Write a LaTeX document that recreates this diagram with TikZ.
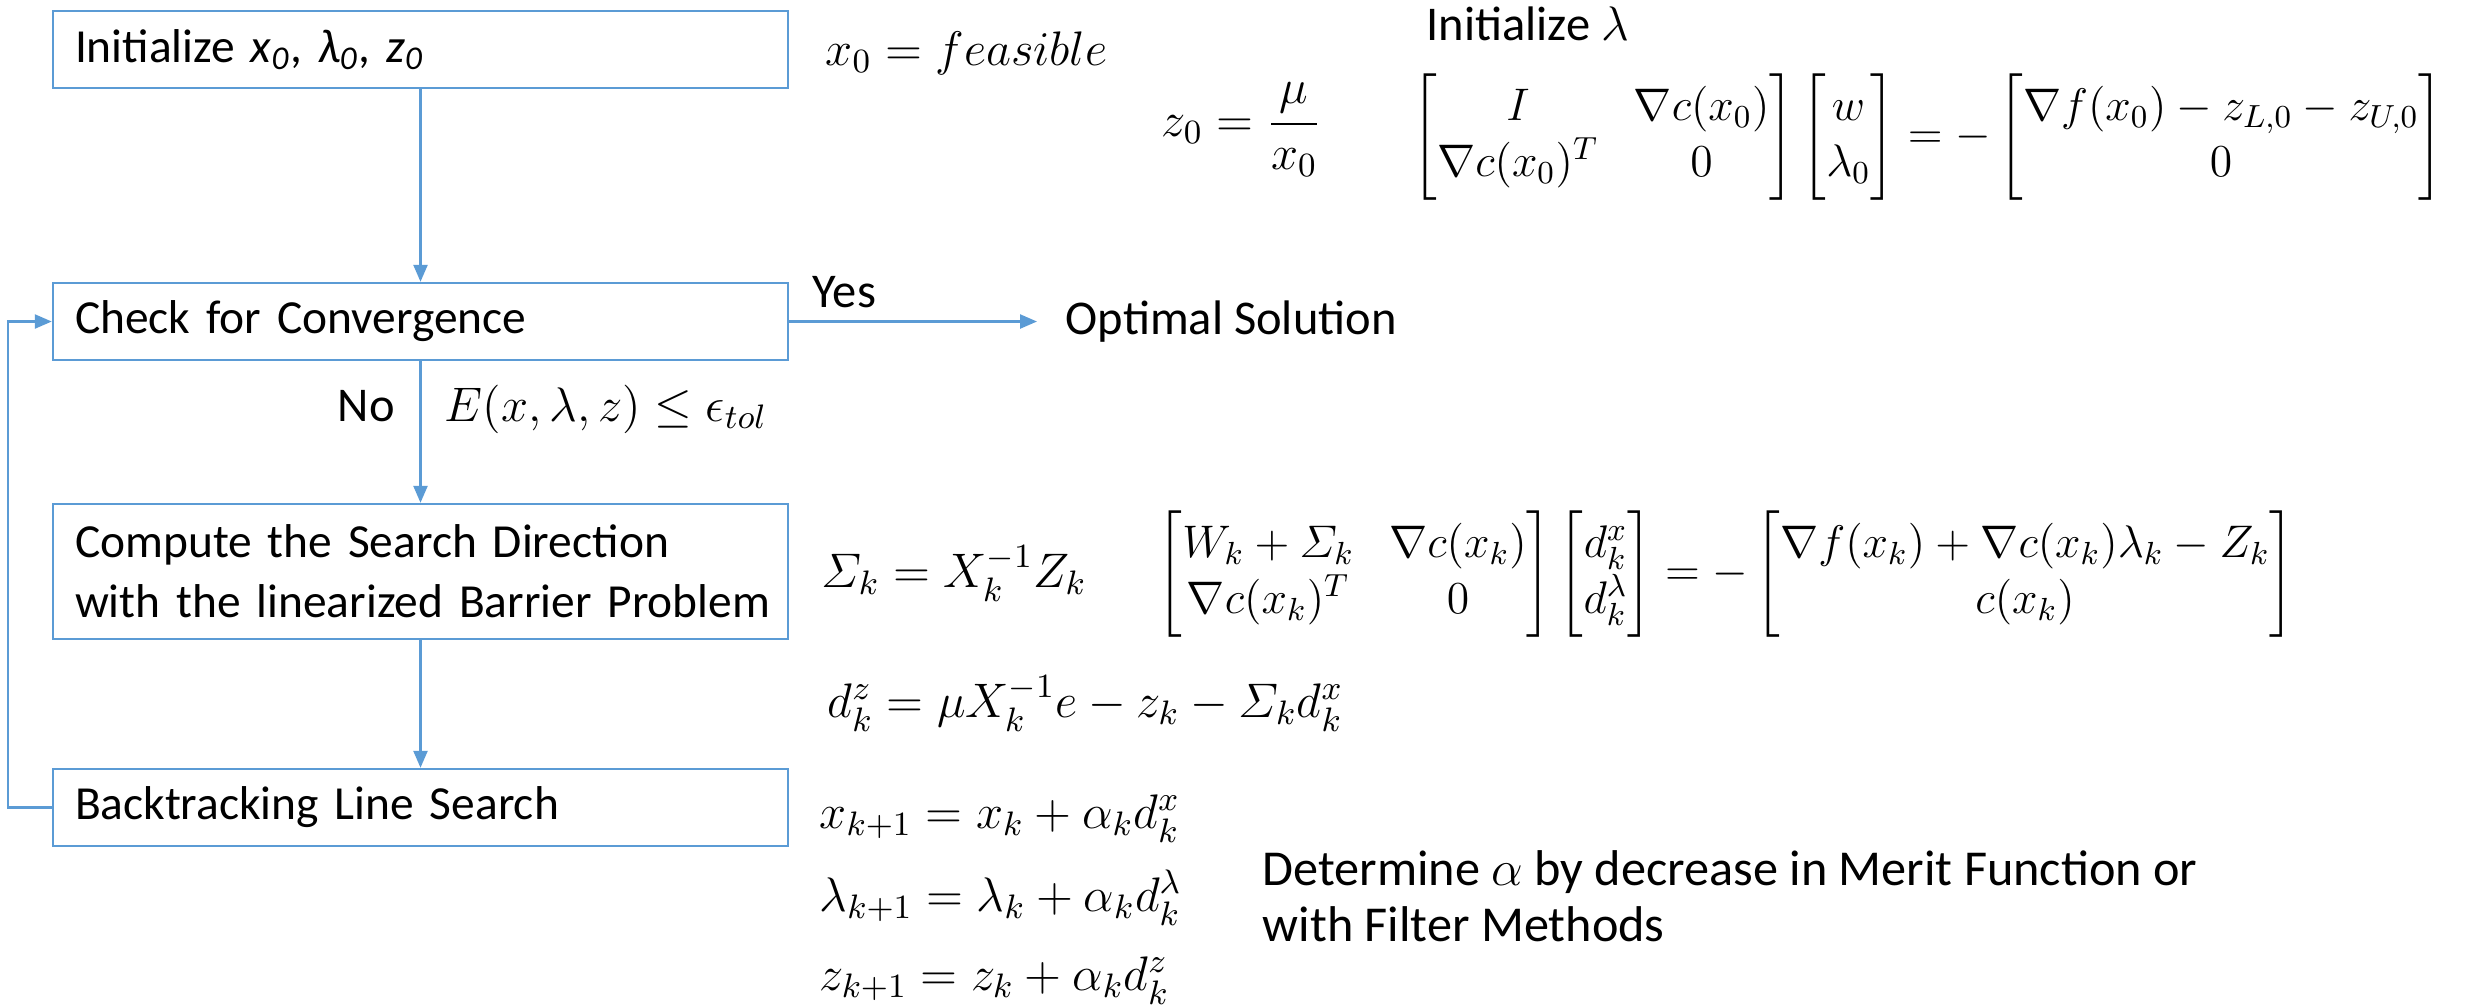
\documentclass[tikz,border=0pt]{standalone}
\usepackage{fix-cm}
\usepackage{amsmath}
\usepackage{fontspec}
\setmainfont{Carlito}
\usepackage{tikz}
\usetikzlibrary{arrows.meta,positioning}
\definecolor{FlowBlue}{HTML}{5B9BD5}

\begin{document}
\begin{tikzpicture}[font=\fontsize{13.8}{17}\selectfont,
  flowbox/.style={draw=FlowBlue, line width=0.7pt, minimum width=7.35cm, text width=6.91cm,
    inner xsep=0.22cm, inner ysep=0pt, align=left, minimum height=0.77cm,
    font=\fontsize{13.5}{17}\selectfont},
  flowarrow/.style={draw=FlowBlue, line width=0.7pt, -{Triangle[length=0.17cm,width=0.14cm]}},
  eqn/.style={inner sep=0pt, anchor=base west},
  bigeqn/.style={inner sep=0pt, anchor=west, font=\fontsize{13}{16}\selectfont}]
  \useasboundingbox (0,0) rectangle (24.65,-10.06);

  \node[flowbox] (init) at (4.205,-0.495)
    {Initialize \textit{x}\textsubscript{\textit{0}}, \textit{λ}\textsubscript{\textit{0}}, \textit{z}\textsubscript{\textit{0}}};
  \node[flowbox] (check) at (4.205,-3.215) {Check for Convergence};
  \node[flowbox, minimum height=1.35cm] (comp) at (4.205,-5.715)
    {\mbox{Compute the Search Direction}\\\mbox{with the linearized Barrier Problem}};
  \node[flowbox] (back) at (4.205,-8.075) {Backtracking Line Search};
  \node[anchor=west, inner xsep=0.28cm] (opt) at (10.37,-3.215) {Optimal Solution};
  \coordinate (loop) at (0.08,-8.075);

  \draw[flowarrow] (init) -- (check);
  \draw[flowarrow] (check) -- (comp);
  \draw[flowarrow] (comp) -- (back);
  \draw[flowarrow] (check.east) -- (opt.west);
  \draw[flowarrow] (back.west) -- (loop) |- (check.west);

  \node[eqn] (yes) at (8.12,-3.07) {Yes};
  \node[eqn] (no) at (3.37,-4.21) {No};
  \node[eqn] (cond) at (4.44,-4.21) {$E(x,\lambda,z) \le \epsilon_{tol}$};

  \node[eqn] (feas) at (8.25,-0.65) {$x_0 = feasible$};
  \node[eqn] (initl) at (14.26,-0.40) {Initialize $\lambda$};
  \node[eqn] (zinit) at (11.61,-1.36) {$z_0 = \dfrac{\mu}{x_0}$};
  \node[bigeqn] (kkt0) at (14.12,-1.37)
    {$\begin{bmatrix} I & \nabla c(x_0)\\ \nabla c(x_0)^T & 0\end{bmatrix}
      \begin{bmatrix} w\\ \lambda_0\end{bmatrix}
      = -\begin{bmatrix}\nabla f(x_0) - z_{L,0} - z_{U,0}\\ 0\end{bmatrix}$};

  \node[eqn] (sig) at (8.21,-5.87) {$\varSigma_k = X_k^{-1} Z_k$};
  \node[bigeqn] (kkt) at (11.57,-5.74)
    {$\begin{bmatrix} W_k + \varSigma_k & \nabla c(x_k)\\ \nabla c(x_k)^T & 0\end{bmatrix}
      \begin{bmatrix} d_k^x\\ d_k^\lambda\end{bmatrix}
      = -\begin{bmatrix}\nabla f(x_k) + \nabla c(x_k)\lambda_k - Z_k\\ c(x_k)\end{bmatrix}$};
  \node[eqn] (dz) at (8.27,-7.17) {$d_k^z = \mu X_k^{-1} e - z_k - \varSigma_k d_k^x$};

  \node[eqn] (updx) at (8.19,-8.28) {$x_{k+1} = x_k + \alpha_k d_k^x$};
  \node[eqn] (updl) at (8.19,-9.11) {$\lambda_{k+1} = \lambda_k + \alpha_k d_k^\lambda$};
  \node[eqn] (updz) at (8.19,-9.90) {$z_{k+1} = z_k + \alpha_k d_k^z$};
  \node[bigeqn, align=left, font=\fontsize{14.3}{16}\selectfont] (merit) at (12.62,-8.96)
    {Determine $\alpha$ by decrease in Merit Function or\\with Filter Methods};
\end{tikzpicture}
\end{document}
